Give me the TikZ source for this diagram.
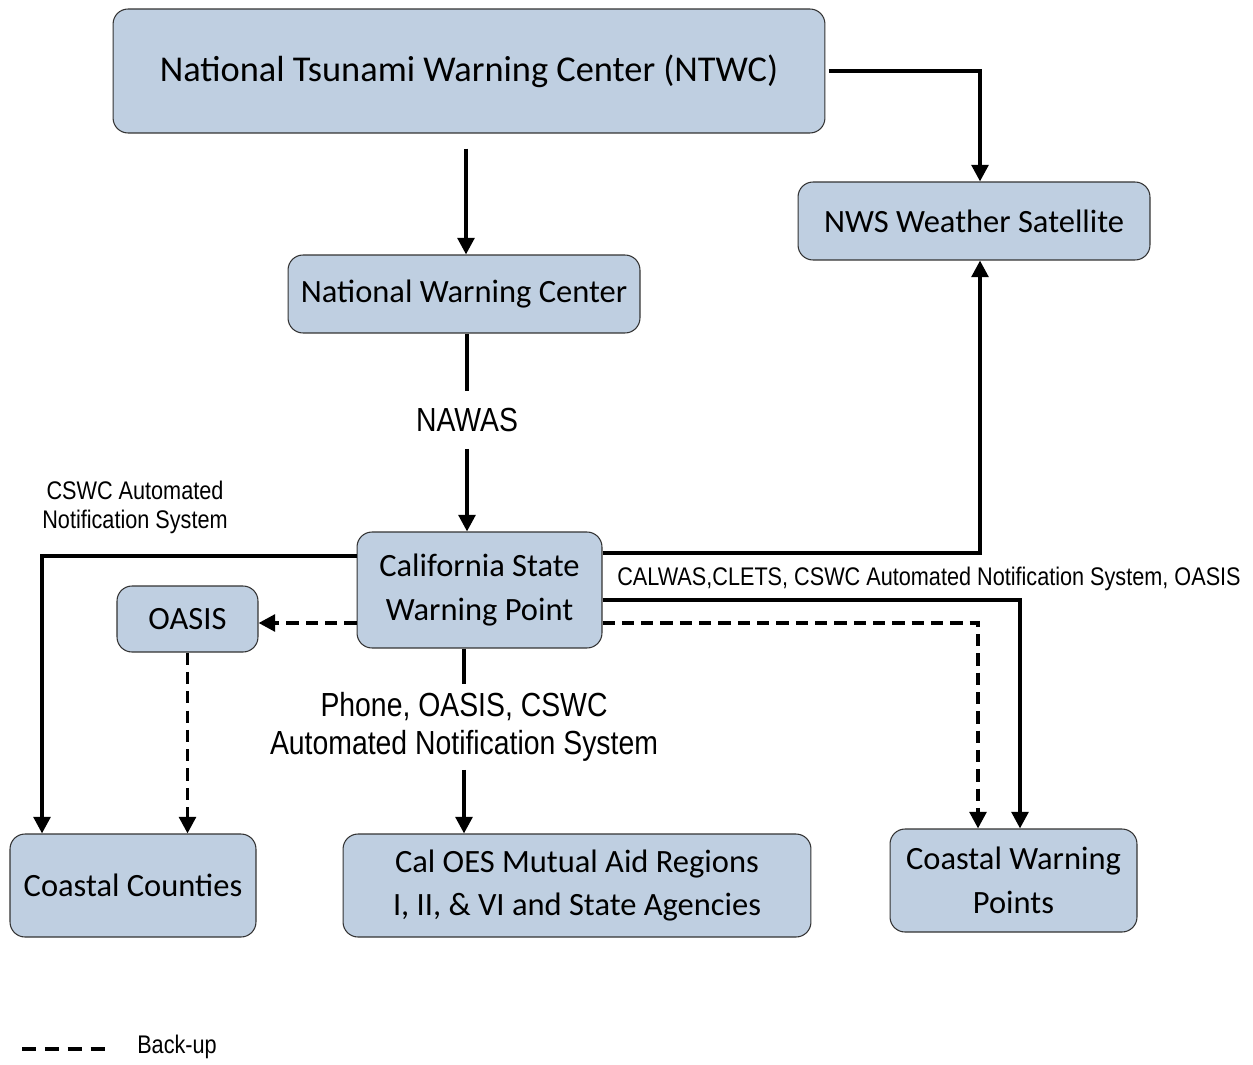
\documentclass[tikz,border=0pt]{standalone}
\usepackage{fontspec}
\setmainfont{Carlito}
\newfontfamily\arialn[FakeStretch=0.85]{Liberation Sans}
\usetikzlibrary{arrows.meta}
\definecolor{boxblue}{RGB}{191,207,225}
\begin{document}
\begin{tikzpicture}[x=0.02cm,y=-0.02cm,
  box/.style={draw=black!80,fill=boxblue,rounded corners=0.3cm,line width=0.6pt,
    align=center,inner sep=0pt,font=\fontsize{18.5}{25}\selectfont},
  lbl/.style={align=center,inner sep=0pt,font=\arialn\fontsize{14.5}{16.5}\selectfont},
  biglbl/.style={lbl,font=\arialn\fontsize{19}{22}\selectfont},
  link/.style={line width=2.2pt},
  arr/.style={link,-{Triangle[length=9.5pt,width=9.5pt]}},
  backup/.style={dash pattern=on 7pt off 4pt}]
\useasboundingbox (0,0) rectangle (1253,1064);

\node[box,minimum width=14.24cm,minimum height=2.48cm,font=\fontsize{20.7}{26}\selectfont] (ntwc) at (469,71) {National Tsunami Warning Center (NTWC)};
\node[box,minimum width=7.04cm,minimum height=1.56cm] (nws) at (974,221) {NWS Weather Satellite};
\node[box,minimum width=7.04cm,minimum height=1.56cm] (nwc) at (464,294) {National Warning Center};
\node[box,minimum width=4.9cm,minimum height=2.32cm] (cswp) at (479.5,590) {California State\\Warning Point};
\node[box,minimum width=2.82cm,minimum height=1.32cm] (oasis) at (187.5,619) {OASIS};
\node[box,minimum width=4.92cm,minimum height=2.06cm] (cc) at (133,885.5) {Coastal Counties};
\node[box,minimum width=9.36cm,minimum height=2.06cm] (caloes) at (577,885.5) {Cal OES Mutual Aid Regions\\I, II, \& VI and State Agencies};
\node[box,minimum width=4.94cm,minimum height=2.06cm] (cwp) at (1013.5,880.5) {Coastal Warning\\Points};

\node[biglbl,minimum height=1.14cm] (nawas) at (467,420) {NAWAS};
\node[lbl] (cswcauto) at (135,507) {CSWC Automated\\Notification System};
\node[lbl] (calwas) at (929,579) {CALWAS,CLETS, CSWC Automated Notification System, OASIS};
\node[biglbl,minimum height=1.7cm] (phone) at (464,727) {Phone, OASIS, CSWC\\Automated Notification System};

\draw[arr,shorten <=2pt] (ntwc.east) -| ([xshift=0.12cm]nws.north);
\draw[arr,shorten <=0.3cm] ([xshift=0.04cm]ntwc.south -| nwc.north) -- ([xshift=0.04cm]nwc.north);
\draw[link] (nwc.south -| nawas.north) -- (nawas.north);
\draw[arr] (nawas.south) -- (nawas.south |- cswp.north);

\draw[arr] ([yshift=0.74cm]cswp.east) -| ([xshift=0.12cm]nws.south);
\draw[arr] ([yshift=-0.2cm]cswp.east) -| ([xshift=0.13cm]cwp.north);
\draw[arr,backup] ([yshift=-0.66cm]cswp.east) -| ([xshift=-0.71cm]cwp.north);
\draw[arr,backup] ([yshift=-0.66cm]cswp.west) -- ([yshift=-0.66cm]cswp.west -| oasis.east);
\draw[arr] ([yshift=0.68cm]cswp.west) -| ([xshift=-1.82cm]cc.north);
\draw[arr,backup] (oasis.south) -- (oasis.south |- cc.north);
\draw[link] (cswp.south -| phone.north) -- (phone.north);
\draw[arr] (phone.south) -- (phone.south |- caloes.north);

% legend
\coordinate (bkA) at (22,1049);
\coordinate (bkB) at (105,1049);
\draw[link,dash pattern=on 8pt off 5pt] (bkA) -- (bkB);
\node[lbl] (bklabel) at (177,1047) {Back-up};
\end{tikzpicture}
\end{document}
